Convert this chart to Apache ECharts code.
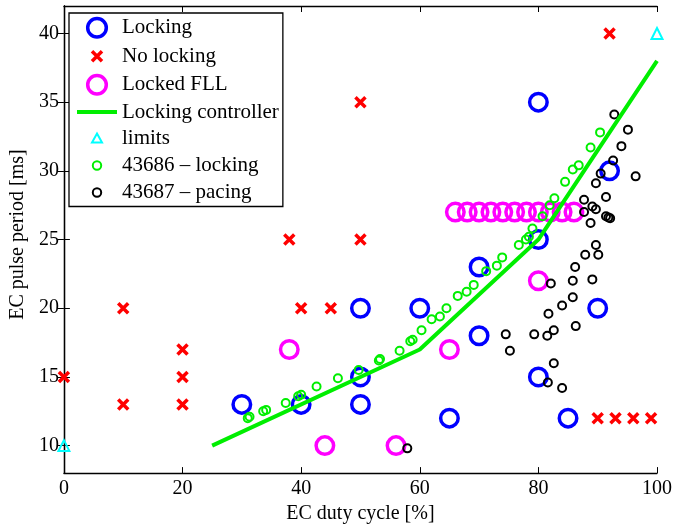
<!DOCTYPE html>
<html>
<head>
<meta charset="utf-8">
<script src="https://cdn.jsdelivr.net/npm/echarts@6/dist/echarts.min.js"></script>
<style>
  html, body { margin: 0; padding: 0; background: #fff; }
  #chart { width: 682px; height: 529px; }
</style>
</head>
<body>
<div id="chart"></div>
<script>
// data: [duty cycle %, pulse period ms]
const locking = [[30, 13], [40, 13], [50, 13], [50, 15], [50, 20], [60, 20], [65, 12], [70, 23], [70, 18],
  [80, 35], [80, 25], [80, 15], [85, 12], [90, 20], [92, 30]]
const noLocking = [[0, 15], [10, 13], [10, 20], [20, 13], [20, 15], [20, 17], [38, 25], [40, 20], [45, 20],
  [50, 25], [50, 35], [92, 40], [90, 12], [93, 12], [96, 12], [99, 12]]
const lockedFLL = [[38, 17], [44, 10], [56, 10], [65, 17], [80, 22],
  [66, 27], [68, 27], [70, 27], [72, 27], [74, 27], [76, 27], [78, 27], [80, 27], [82, 27], [84, 27], [86, 27]]
const controller = [[25, 10], [60, 17], [80, 25], [100, 38]]
const limits = [[0, 10], [100, 40]]
const run43686 = [[31.0, 12.0], [31.3, 12.1], [33.6, 12.5], [34.1, 12.6], [37.4, 13.1], [39.5, 13.6], [40.0, 13.7],
  [42.6, 14.3], [46.2, 14.9], [49.7, 15.5], [53.1, 16.2], [53.3, 16.3], [56.6, 16.9], [58.4, 17.6], [58.8, 17.7],
  [60.3, 18.4], [62.0, 19.2], [63.4, 19.4], [64.5, 20.0], [66.4, 20.9], [67.9, 21.2], [69.1, 21.7], [71.2, 22.7],
  [73.0, 23.1], [73.9, 23.7], [76.7, 24.6], [77.9, 25.0], [78.4, 25.2], [79.0, 25.8], [80.7, 26.7], [81.9, 27.5],
  [82.7, 28.0], [84.5, 29.2], [85.8, 30.1], [86.8, 30.4], [88.8, 31.7], [90.4, 32.8]]
const run43687 = [[57.9, 9.8], [74.5, 18.1], [75.2, 16.9], [79.3, 18.1], [81.5, 18.0], [81.6, 14.6], [81.7, 19.6],
  [82.1, 21.8], [82.6, 18.4], [82.6, 16.0], [84.0, 20.2], [84.0, 14.2], [85.8, 22.0], [85.8, 20.8], [86.3, 18.7],
  [86.2, 23.0], [87.9, 23.9], [89.1, 22.1], [89.7, 24.6], [90.1, 23.9], [88.8, 26.2], [87.7, 27.0], [87.7, 27.9],
  [89.1, 27.4], [89.7, 27.2], [89.7, 29.1], [90.5, 29.8], [91.4, 28.1], [91.4, 26.7], [91.8, 26.6], [92.1, 26.55],
  [92.6, 30.75], [94.0, 31.8], [95.1, 33.0], [92.8, 34.1], [96.4, 29.6]]
const xTicks = [0, 20, 40, 60, 80, 100]
const yTicks = [10, 15, 20, 25, 30, 35, 40]

const FONT = 'Liberation Serif'
const HOLLOW = 'rgba(0,0,0,0)'
const GREEN = '#00ee00'
const crossPath = 'path://M0,0 L10,10 M0,10 L10,0'

// legend icons: the invisible corner points keep the shape small inside its box
function circleIcon(r) {
  const c = 10
  return 'path://M0,0 M20,20 M' + (c + r) + ',' + c + ' A' + r + ',' + r + ' 0 1 1 ' + (c - r) + ',' + c +
    ' A' + r + ',' + r + ' 0 1 1 ' + (c + r) + ',' + c + ' Z'
}
function crossIcon(h) {
  const a = 10 - h, b = 10 + h
  return 'path://M0,0 M20,20 M' + a + ',' + a + ' L' + b + ',' + b + ' M' + a + ',' + b + ' L' + b + ',' + a
}
function triIcon(h) {
  return 'path://M0,0 M20,20 M10,' + (10 - h) + ' L' + (10 + h) + ',' + (10 + h * 0.8) + ' L' + (10 - h) + ',' + (10 + h * 0.8) + ' Z'
}
const lineIcon = 'path://M0,0 M40,20 M0,8 L40,8 L40,12 L0,12 Z'

const myChart = echarts.init(document.getElementById('chart'), null, { renderer: 'canvas' })

const axisLine = { show: true, lineStyle: { color: '#000', width: 1.3 } }
const tickIn = { inside: true, length: 6, lineStyle: { color: '#000', width: 1 } }

myChart.setOption({
  animation: false,
  backgroundColor: '#fff',
  grid: { left: 62, right: 25, top: 6, bottom: 54 },
  legend: {
    orient: 'vertical',
    left: 69,
    top: 13,
    padding: [3, 4, 3, 8],
    itemWidth: 40,
    itemHeight: 20,
    itemGap: 5,
    borderColor: '#000',
    borderWidth: 1.3,
    backgroundColor: '#fff',
    textStyle: { fontFamily: FONT, fontSize: 21, color: '#000', lineHeight: 20 },
    data: [
      { name: 'Locking', icon: circleIcon(9.3), itemStyle: { color: HOLLOW, borderColor: '#0000ff', borderWidth: 3.5 } },
      { name: 'No locking', icon: crossIcon(5), itemStyle: { color: HOLLOW, borderColor: '#ff0000', borderWidth: 3.5 } },
      { name: 'Locked FLL', icon: circleIcon(9.3), itemStyle: { color: HOLLOW, borderColor: '#ff00ff', borderWidth: 3.5 } },
      { name: 'Locking controller', icon: lineIcon, itemStyle: { color: GREEN, borderWidth: 0 } },
      { name: 'limits', icon: triIcon(5), itemStyle: { color: HOLLOW, borderColor: '#00ffff', borderWidth: 2 } },
      { name: '43686 \u2013 locking', icon: circleIcon(4.2), itemStyle: { color: HOLLOW, borderColor: GREEN, borderWidth: 2 } },
      { name: '43687 \u2013 pacing', icon: circleIcon(4.2), itemStyle: { color: HOLLOW, borderColor: '#000', borderWidth: 2 } }
    ]
  },
  xAxis: [
    {
      type: 'value',
      min: 0,
      max: 100,
      interval: 20,
      position: 'bottom',
      name: 'EC duty cycle [%]',
      nameLocation: 'middle',
      nameGap: 26,
      nameTextStyle: { fontFamily: FONT, fontSize: 20, color: '#000' },
      axisLine: axisLine,
      axisTick: tickIn,
      axisLabel: { fontFamily: FONT, fontSize: 20, color: '#000', margin: 6 },
      splitLine: { show: false }
    },
    {
      type: 'value',
      min: 0,
      max: 100,
      interval: 20,
      position: 'top',
      axisLine: axisLine,
      axisTick: tickIn,
      axisLabel: { show: false },
      splitLine: { show: false }
    }
  ],
  yAxis: [
    {
      type: 'value',
      min: 8,
      max: 42,
      position: 'left',
      name: 'EC pulse period [ms]',
      nameLocation: 'middle',
      nameGap: 33,
      nameTextStyle: { fontFamily: FONT, fontSize: 20, color: '#000', padding: [0, 0, 0, 10] },
      axisLine: axisLine,
      axisTick: Object.assign({ customValues: yTicks }, tickIn),
      axisLabel: { customValues: yTicks, fontFamily: FONT, fontSize: 20, color: '#000', margin: 5 },
      splitLine: { show: false }
    },
    {
      type: 'value',
      min: 8,
      max: 42,
      position: 'right',
      axisLine: axisLine,
      axisTick: Object.assign({ customValues: yTicks }, tickIn),
      axisLabel: { show: false },
      splitLine: { show: false }
    }
  ],
  series: [
    {
      name: 'Locking',
      type: 'scatter',
      data: locking,
      symbol: 'circle',
      symbolSize: 17.5,
      clip: false,
      itemStyle: { color: HOLLOW, borderColor: '#0000ff', borderWidth: 3.5, opacity: 1 }
    },
    {
      name: 'No locking',
      type: 'scatter',
      data: noLocking,
      symbol: crossPath,
      symbolSize: 10,
      clip: false,
      itemStyle: { color: HOLLOW, borderColor: '#ff0000', borderWidth: 3.5, opacity: 1 }
    },
    {
      name: 'Locked FLL',
      type: 'scatter',
      data: lockedFLL,
      symbol: 'circle',
      symbolSize: 17.5,
      clip: false,
      itemStyle: { color: HOLLOW, borderColor: '#ff00ff', borderWidth: 3.5, opacity: 1 }
    },
    {
      name: 'Locking controller',
      type: 'line',
      data: controller,
      symbol: 'none',
      lineStyle: { color: GREEN, width: 4 },
      itemStyle: { color: GREEN }
    },
    {
      name: 'limits',
      type: 'scatter',
      data: limits,
      symbol: 'triangle',
      symbolSize: 11,
      clip: false,
      itemStyle: { color: HOLLOW, borderColor: '#00ffff', borderWidth: 2, opacity: 1 }
    },
    {
      name: '43686 \u2013 locking',
      type: 'scatter',
      data: run43686,
      symbol: 'circle',
      symbolSize: 8,
      clip: false,
      itemStyle: { color: HOLLOW, borderColor: GREEN, borderWidth: 2, opacity: 1 }
    },
    {
      name: '43687 \u2013 pacing',
      type: 'scatter',
      data: run43687,
      symbol: 'circle',
      symbolSize: 8,
      clip: false,
      itemStyle: { color: HOLLOW, borderColor: '#000', borderWidth: 2, opacity: 1 }
    }
  ]
})
</script>
</body>
</html>
